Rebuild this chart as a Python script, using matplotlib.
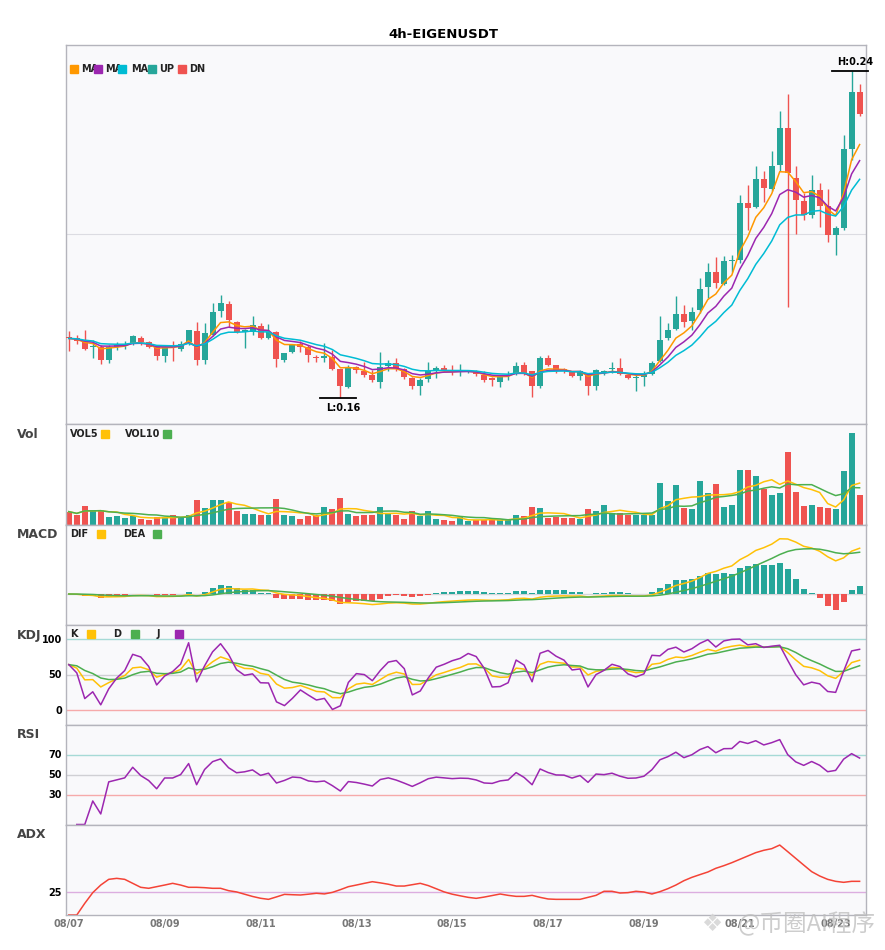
import numpy as np
import pandas as pd
import matplotlib
matplotlib.use("Agg")
import matplotlib.pyplot as plt
from matplotlib.patches import Rectangle

# ---- data (4h candles from 08/07 00:00) ----
title = "4h-EIGENUSDT"
start = "2024-08-07 00:00"

opens = [0.1746, 0.1746, 0.1741, 0.1722, 0.1724, 0.1692, 0.1724, 0.1726, 0.1731, 0.1746,
         0.1734, 0.1723, 0.1700, 0.1724, 0.1718, 0.1734, 0.1763, 0.1690, 0.1753, 0.1810,
         0.1829, 0.1784, 0.1760, 0.1759, 0.1775, 0.1745, 0.1759, 0.1692, 0.1710, 0.1729,
         0.1722, 0.1698, 0.1697, 0.1699, 0.1669, 0.1625, 0.1674, 0.1663, 0.1655, 0.1638,
         0.1675, 0.1683, 0.1669, 0.1647, 0.1628, 0.1644, 0.1664, 0.1671, 0.1667, 0.1664,
         0.1663, 0.1664, 0.1655, 0.1647, 0.1636, 0.1651, 0.1657, 0.1679, 0.1663, 0.1628,
         0.1696, 0.1679, 0.1668, 0.1663, 0.1652, 0.1655, 0.1628, 0.1662, 0.1669, 0.1671,
         0.1655, 0.1646, 0.1649, 0.1657, 0.1688, 0.1745, 0.1767, 0.1805, 0.1786, 0.1813,
         0.1870, 0.1906, 0.1878, 0.1935, 0.1937, 0.2076, 0.2066, 0.2136, 0.2110, 0.2170,
         0.2261, 0.2138, 0.2082, 0.2047, 0.2109, 0.2070, 0.1997, 0.2016, 0.2209, 0.2348]
highs = [0.1761, 0.1753, 0.1765, 0.1741, 0.1728, 0.1728, 0.1734, 0.1737, 0.1753, 0.1749,
         0.1737, 0.1724, 0.1726, 0.1737, 0.1737, 0.1765, 0.1783, 0.1782, 0.1831, 0.1851,
         0.1835, 0.1786, 0.1768, 0.1798, 0.1782, 0.1780, 0.1761, 0.1708, 0.1731, 0.1737,
         0.1728, 0.1704, 0.1732, 0.1716, 0.1670, 0.1679, 0.1677, 0.1687, 0.1667, 0.1710,
         0.1692, 0.1696, 0.1671, 0.1649, 0.1647, 0.1685, 0.1675, 0.1679, 0.1679, 0.1682,
         0.1667, 0.1667, 0.1663, 0.1649, 0.1655, 0.1663, 0.1687, 0.1687, 0.1665, 0.1700,
         0.1704, 0.1679, 0.1671, 0.1665, 0.1667, 0.1659, 0.1669, 0.1667, 0.1685, 0.1696,
         0.1655, 0.1655, 0.1663, 0.1688, 0.1798, 0.1782, 0.1849, 0.1827, 0.1821, 0.1893,
         0.1929, 0.1944, 0.1945, 0.1949, 0.2095, 0.2121, 0.2168, 0.2154, 0.2203, 0.2301,
         0.2344, 0.2168, 0.2101, 0.2146, 0.2125, 0.2111, 0.2021, 0.2244, 0.2400, 0.2369]
lows = [0.1714, 0.1730, 0.1716, 0.1696, 0.1682, 0.1683, 0.1716, 0.1718, 0.1728, 0.1728,
        0.1720, 0.1692, 0.1687, 0.1689, 0.1712, 0.1728, 0.1679, 0.1682, 0.1749, 0.1796,
        0.1773, 0.1757, 0.1720, 0.1753, 0.1742, 0.1742, 0.1674, 0.1685, 0.1708, 0.1710,
        0.1687, 0.1685, 0.1685, 0.1667, 0.1598, 0.1622, 0.1659, 0.1649, 0.1636, 0.1622,
        0.1663, 0.1663, 0.1644, 0.1620, 0.1604, 0.1636, 0.1647, 0.1663, 0.1655, 0.1652,
        0.1659, 0.1651, 0.1636, 0.1626, 0.1625, 0.1643, 0.1655, 0.1655, 0.1600, 0.1622,
        0.1677, 0.1659, 0.1659, 0.1649, 0.1643, 0.1604, 0.1618, 0.1655, 0.1659, 0.1655,
        0.1644, 0.1616, 0.1626, 0.1655, 0.1687, 0.1741, 0.1765, 0.1772, 0.1765, 0.1806,
        0.1843, 0.1867, 0.1875, 0.1908, 0.1929, 0.2011, 0.2064, 0.2080, 0.2105, 0.2154,
        0.1820, 0.2001, 0.2034, 0.2039, 0.2017, 0.1980, 0.1948, 0.2009, 0.2182, 0.2289]
closes = [0.1744, 0.1737, 0.1719, 0.1726, 0.1692, 0.1724, 0.1727, 0.1730, 0.1749, 0.1734,
          0.1723, 0.1700, 0.1723, 0.1723, 0.1731, 0.1764, 0.1690, 0.1757, 0.1809, 0.1831,
          0.1788, 0.1759, 0.1765, 0.1777, 0.1746, 0.1759, 0.1693, 0.1708, 0.1728, 0.1724,
          0.1702, 0.1696, 0.1700, 0.1669, 0.1626, 0.1674, 0.1667, 0.1655, 0.1641, 0.1674,
          0.1683, 0.1669, 0.1649, 0.1626, 0.1643, 0.1663, 0.1671, 0.1667, 0.1663, 0.1665,
          0.1664, 0.1657, 0.1643, 0.1641, 0.1649, 0.1652, 0.1677, 0.1659, 0.1626, 0.1696,
          0.1679, 0.1667, 0.1666, 0.1652, 0.1663, 0.1628, 0.1667, 0.1664, 0.1671, 0.1657,
          0.1647, 0.1648, 0.1655, 0.1683, 0.1741, 0.1765, 0.1805, 0.1783, 0.1809, 0.1866,
          0.1908, 0.1880, 0.1935, 0.1937, 0.2076, 0.2065, 0.2136, 0.2112, 0.2168, 0.2261,
          0.2150, 0.2083, 0.2047, 0.2109, 0.2070, 0.1997, 0.2015, 0.2209, 0.2348, 0.2294]
volumes = [12.7, 9.3, 18.3, 13.7, 14.3, 7.3, 8.3, 6.3, 8.7, 5.3,
           4.7, 7.0, 7.7, 9.3, 7.0, 9.0, 24.3, 16.3, 24.3, 24.3,
           22.3, 13.7, 10.3, 10.3, 9.3, 9.3, 25.3, 9.3, 8.3, 5.3,
           8.3, 9.3, 17.3, 15.3, 26.3, 10.3, 8.3, 9.3, 9.3, 17.3,
           10.3, 9.3, 5.3, 13.3, 8.7, 13.3, 5.3, 4.3, 3.3, 7.0,
           3.3, 4.7, 4.7, 4.7, 4.3, 5.0, 9.3, 8.3, 17.3, 16.3,
           6.3, 7.7, 6.3, 6.3, 5.3, 15.3, 13.3, 19.3, 11.3, 11.3,
           9.3, 9.3, 9.3, 9.3, 41.3, 23.3, 39.3, 16.3, 15.3, 43.3,
           31.3, 40.3, 17.3, 19.3, 54.3, 54.3, 48.3, 35.0, 29.3, 31.3,
           71.3, 32.3, 18.3, 19.3, 17.3, 16.3, 15.3, 53.3, 90.3, 29.3]
# ADX line
adx_vals = [0.0, 0.0, 12.9, 24.7, 33.1, 39.4, 40.5, 39.4, 35.0, 30.6,
            29.5, 31.3, 33.1, 35.0, 33.1, 30.6, 30.6, 30.2, 29.5, 29.5,
            26.9, 25.5, 23.0, 20.5, 18.5, 17.3, 20.0, 22.8, 22.4, 22.1,
            23.0, 24.0, 23.3, 25.0, 28.0, 31.3, 33.1, 35.0, 36.8, 35.5,
            34.0, 32.0, 32.0, 33.5, 35.0, 32.5, 29.0, 25.5, 23.0, 21.2,
            19.5, 18.4, 19.8, 21.5, 23.2, 21.7, 20.6, 20.6, 21.7, 19.5,
            17.7, 17.3, 17.3, 17.3, 17.3, 19.5, 21.7, 26.2, 26.2, 24.3,
            24.7, 26.2, 25.4, 23.2, 25.8, 29.1, 33.1, 37.9, 41.6, 44.6,
            47.5, 51.6, 54.5, 57.8, 61.5, 65.2, 68.9, 71.5, 73.3, 77.3,
            70.0, 62.6, 55.2, 47.9, 43.1, 39.4, 37.2, 36.1, 37.2, 37.2]

# colours
UP, DN = "#26a69a", "#ef5350"
MA_COLORS = ["#ff9800", "#9c27b0", "#00bcd4"]
YEL, GRN, PUR, RED = "#ffc107", "#4caf50", "#9c27b0", "#f44336"
BG = "#f9f9fb"
SPINE = "#b4b4bc"

df = pd.DataFrame({"open": opens, "high": highs, "low": lows,
                   "close": closes, "vol": volumes, "adx": adx_vals})
df.index = pd.date_range(start, periods=len(df), freq="4h")
o, h, l, c, v = df["open"], df["high"], df["low"], df["close"], df["vol"]
x = np.arange(len(df))
up = (c >= o).values
col = np.where(up, UP, DN)

# ---- indicators ----
mas = [c.ewm(span=n, adjust=False).mean() for n in (5, 8, 13)]
vol5 = v.rolling(5, min_periods=1).mean()
vol10 = v.rolling(10, min_periods=1).mean()

dif = c.ewm(span=12, adjust=False).mean() - c.ewm(span=26, adjust=False).mean()
dea = dif.ewm(span=9, adjust=False).mean()
hist = 2 * (dif - dea)

low9 = l.rolling(9, min_periods=1).min()
high9 = h.rolling(9, min_periods=1).max()
rsv = (c - low9) / (high9 - low9) * 100
k = rsv.ewm(com=2, adjust=False).mean()
d = k.ewm(com=2, adjust=False).mean()
j = 3 * k - 2 * d

delta = c.diff()
gain = delta.clip(lower=0).ewm(alpha=1 / 14).mean()
loss = (-delta.clip(upper=0)).ewm(alpha=1 / 14).mean()
rsi = 100 * gain / (gain + loss)

# ---- layout ----
W, H = 885, 950
fig = plt.figure(figsize=(W / 100, H / 100), dpi=100)


def add_panel(top, bottom):
    ax = fig.add_axes([66 / W, 1 - bottom / H, 800 / W, (bottom - top) / H])
    ax.set_facecolor(BG)
    for s in ax.spines.values():
        s.set_color(SPINE)
        s.set_linewidth(1)
    ax.set_xlim(-0.35, len(df) - 0.2)
    ax.tick_params(length=0, labelsize=7, pad=3)
    ax.set_xticks([])
    return ax


def fig_text(px, py, s, **kw):
    return fig.text(px / W, 1 - py / H, s, **kw)


def legend(items, py):
    # items: (text, text x, square x, colour)
    for s, tx, sx, color in items:
        fig_text(tx, py, s, fontsize=7, fontweight="bold", va="center", color="#222")
        fig.add_artist(Rectangle((sx / W, 1 - (py + 4) / H), 8 / W, 8 / H,
                                 transform=fig.transFigure, color=color, zorder=5))


def panel_label(py, s):
    fig_text(17, py, s, fontsize=9, fontweight="bold", color="#444", va="center")


ax_p = add_panel(45, 424)
ax_v = add_panel(424, 524.5)
ax_m = add_panel(524.5, 624.5)
ax_k = add_panel(624.5, 724.5)
ax_r = add_panel(724.5, 824.5)
ax_a = add_panel(824.5, 915)

# price panel
ax_p.vlines(x, l, h, color=col, linewidth=1, zorder=2)
body = np.maximum((c - o).abs(), 0.00025)
ax_p.bar(x, body, bottom=np.minimum(o, c), width=0.75, color=col, zorder=3)
for ma, color in zip(mas, MA_COLORS):
    ax_p.plot(x, ma, color=color, linewidth=1.1, zorder=4)
lo, hi = l.min(), h.max()
pad = 0.08 * (hi - lo)
ax_p.set_ylim(lo - pad, hi + pad)
ax_p.set_yticks([0.20])
ax_p.set_yticklabels([])
ax_p.grid(axis="y", color="#dcdce2", linewidth=0.8)
ax_p.set_axisbelow(True)
i_hi, i_lo = int(h.values.argmax()), int(l.values.argmin())
ax_p.plot([i_hi - 2.5, i_hi + 2], [hi, hi], color="black", linewidth=1.3, clip_on=False, zorder=6)
ax_p.text(i_hi + 0.4, hi + 0.0010, f"H:{hi:.2f}", ha="center", va="bottom",
          fontsize=7, fontweight="bold", clip_on=False)
ax_p.plot([i_lo - 2.5, i_lo + 2], [lo, lo], color="black", linewidth=1.3, zorder=6)
ax_p.text(i_lo + 0.3, lo - 0.0012, f"L:{lo:.2f}", ha="center", va="top",
          fontsize=7, fontweight="bold")

# volume panel
ax_v.bar(x, v, width=0.75, color=col, zorder=2)
ax_v.plot(x, vol5, color=YEL, linewidth=1.1, zorder=3)
ax_v.plot(x, vol10, color=GRN, linewidth=1.1, zorder=3)
ax_v.set_ylim(0, v.max() * 1.1)
ax_v.set_yticks([])

# macd panel
ax_m.axhline(0, color="#d6d6da", linewidth=1, zorder=1)
ax_m.bar(x, hist, width=0.75, color=np.where(hist >= 0, UP, DN), zorder=2)
ax_m.plot(x, dif, color=YEL, linewidth=1.1, zorder=3)
ax_m.plot(x, dea, color=GRN, linewidth=1.1, zorder=3)
mlo = min(dif.min(), dea.min(), hist.min())
mhi = max(dif.max(), dea.max(), hist.max())
span = mhi - mlo
ax_m.set_ylim(mlo - 0.2 * span, mhi + 0.2 * span)
ax_m.set_yticks([])

# kdj panel
for lvl, color in [(100, "#a6dad6"), (50, "#d0d0d4"), (0, "#f6aaaa")]:
    ax_k.axhline(lvl, color=color, linewidth=1, zorder=1)
ax_k.plot(x, k, color=YEL, linewidth=1.1)
ax_k.plot(x, d, color=GRN, linewidth=1.1)
ax_k.plot(x, j, color=PUR, linewidth=1.1)
ax_k.set_ylim(-20, 120)
ax_k.set_yticks([0, 50, 100])

# rsi panel
for lvl, color in [(70, "#a6dad6"), (50, "#d0d0d4"), (30, "#f6aaaa")]:
    ax_r.axhline(lvl, color=color, linewidth=1, zorder=1)
ax_r.plot(x, rsi, color=PUR, linewidth=1.1)
ax_r.set_ylim(0, 100)
ax_r.set_yticks([30, 50, 70])

# adx panel
ax_a.axhline(25, color="#dcaee0", linewidth=1, zorder=1)
ax_a.plot(x, df["adx"], color=RED, linewidth=1.1)
ax_a.set_ylim(0, 100)
ax_a.set_yticks([25])
ticks = x[::12]
ax_a.set_xticks(ticks)
ax_a.set_xticklabels([t.strftime("%m/%d") for t in df.index[::12]])
ax_a.tick_params(axis="x", labelsize=7, labelcolor="#777", pad=3)

for ax in (ax_k, ax_r, ax_a):
    for lab in ax.get_yticklabels() + ax.get_xticklabels():
        lab.set_fontweight("bold")

# texts
fig_text(443, 35, title, ha="center", va="center", fontsize=9.5, fontweight="bold")
legend([("MA", 81, 70, MA_COLORS[0]), ("MA", 105, 94, MA_COLORS[1]),
        ("MA", 131, 118, MA_COLORS[2]), ("UP", 159, 148, UP), ("DN", 189, 178, DN)], 69)
legend([("VOL5", 70, 101, YEL), ("VOL10", 125, 163, GRN)], 434)
legend([("DIF", 70, 97, YEL), ("DEA", 123, 153, GRN)], 534)
legend([("K", 70, 87, YEL), ("D", 113, 131, GRN), ("J", 157, 175, PUR)], 634)
for py, s in [(434, "Vol"), (535, "MACD"), (635, "KDJ"), (735, "RSI"), (835, "ADX")]:
    panel_label(py, s)

# watermark
fig_text(712, 924, "\u2756", ha="center", va="center", fontsize=17,
         color="#d4d4d4", alpha=0.85, zorder=10)
fig_text(738, 924, "@币圈AI程序", ha="left", va="center", fontsize=17,
         color="#bdbdbd", alpha=0.75, zorder=10,
         family=["Noto Sans CJK SC", "DejaVu Sans"])

fig.savefig("out.png", dpi=100, facecolor="white")
